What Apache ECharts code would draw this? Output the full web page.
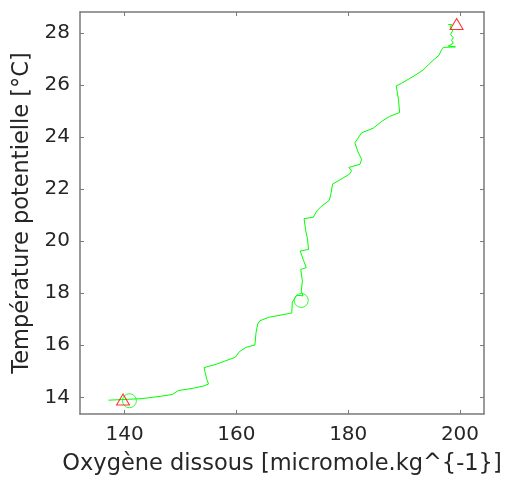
<!DOCTYPE html>
<html>
<head>
<meta charset="utf-8">
<script src="https://cdn.jsdelivr.net/npm/echarts@6/dist/echarts.min.js"></script>
<style>html,body{margin:0;padding:0;background:#fff}#c{width:509px;height:481px}</style>
</head>
<body>
<div id="c"></div>
<script>
// Profile: dissolved oxygen vs potential temperature (bottom to top)
var oxygen = [137.1,143.1,146.4,148.5,149.6,152.3,154.2,155.0,154.7,154.4,154.2,156.5,159.8,160.5,161.7,163.3,163.5,163.8,164.2,165.7,169.9,170.0,170.8,171.9,171.6,171.8,171.5,172.5,172.0,171.4,172.9,172.7,172.4,172.1,173.75,174.4,175.0,176.6,176.9,177.2,178.5,180.2,180.6,180.1,182.1,182.4,181.7,181.2,182.4,184.5,186.0,187.4,189.2,189.0,188.6,189.5,191.6,193.4,195.2,196.25,196.7,197.0,199.2,197.9,198.8,198.5,198.8,198.3,198.7,198.2,198.5,197.9];
var temperature = [13.89,13.95,14.04,14.11,14.26,14.35,14.44,14.51,14.69,14.95,15.14,15.28,15.54,15.75,15.92,16.01,16.48,16.82,16.94,17.07,17.24,17.66,17.92,17.90,18.08,18.46,18.91,18.98,19.26,19.62,19.68,20.10,20.40,20.86,20.92,21.16,21.30,21.56,21.81,22.19,22.35,22.57,22.70,22.83,22.95,23.14,23.45,23.78,24.16,24.34,24.60,24.79,24.94,25.43,25.96,26.06,26.32,26.57,26.95,27.14,27.35,27.44,27.46,27.49,27.60,27.71,27.81,27.94,28.08,28.22,28.32,28.32];
var triangleX = [139.7, 199.4];
var triangleY = [13.92, 28.34];
var circleX = [140.84, 171.6];
var circleY = [13.87, 17.72];
var xTicks = [140, 160, 180, 200];
var yTicks = [14, 16, 18, 20, 22, 24, 26, 28];

function pairs(a, b) { return a.map(function (v, i) { return [v, b[i]]; }); }

var axisColor = '#7a7a7a';
var textColor = '#262626';
var font = 'DejaVu Sans';

var chart = echarts.init(document.getElementById('c'), null, {renderer: 'canvas'});
var xMin = 132, xMax = 204.3, yMin = 13.36, yMax = 28.8;
function xAx(pos, show) {
  return {
    type: 'value', position: pos, min: xMin, max: xMax,
    name: show ? 'Oxygène dissous [micromole.kg^{-1}]' : '',
    nameLocation: 'middle', nameGap: 39,
    nameTextStyle: {fontFamily: font, fontSize: 22.5, color: textColor},
    axisLine: {show: true, onZero: false, lineStyle: {color: axisColor, width: 1.5}},
    axisTick: {show: true, inside: true, length: 4, customValues: xTicks, lineStyle: {color: axisColor}},
    axisLabel: {show: show, customValues: xTicks, margin: 11, fontFamily: font, fontSize: 20, color: textColor},
    splitLine: {show: false}
  };
}
function yAx(pos, show) {
  return {
    type: 'value', position: pos, min: yMin, max: yMax,
    name: show ? 'Température potentielle [°C]' : '',
    nameLocation: 'middle', nameGap: 42, nameRotate: 90,
    nameTextStyle: {fontFamily: font, fontSize: 22.5, color: textColor},
    axisLine: {show: true, onZero: false, lineStyle: {color: axisColor, width: 1.5}},
    axisTick: {show: true, inside: true, length: 4, customValues: yTicks, lineStyle: {color: axisColor}},
    axisLabel: {show: show, customValues: yTicks, margin: 10, fontFamily: font, fontSize: 20, color: textColor},
    splitLine: {show: false}
  };
}
chart.setOption({
  animation: false,
  backgroundColor: '#ffffff',
  grid: {left: 80, top: 12, width: 404, height: 405, containLabel: false},
  xAxis: [xAx('bottom', true), xAx('top', false)],
  yAxis: [yAx('left', true), yAx('right', false)],
  series: [
    {type: 'line', data: pairs(oxygen, temperature), showSymbol: false, symbol: 'none',
     lineStyle: {color: '#00ff00', width: 1}, z: 2},
    {type: 'scatter', data: pairs(circleX, circleY), symbol: 'circle', symbolSize: 14,
     itemStyle: {color: 'rgba(0,0,0,0)', borderColor: '#00ff00', borderWidth: 1}, z: 3},
    {type: 'scatter', data: pairs(triangleX, triangleY), symbol: 'triangle', symbolSize: [13, 11],
     itemStyle: {color: 'rgba(0,0,0,0)', borderColor: '#ff0000', borderWidth: 1}, z: 4}
  ]
});
</script>
</body>
</html>
